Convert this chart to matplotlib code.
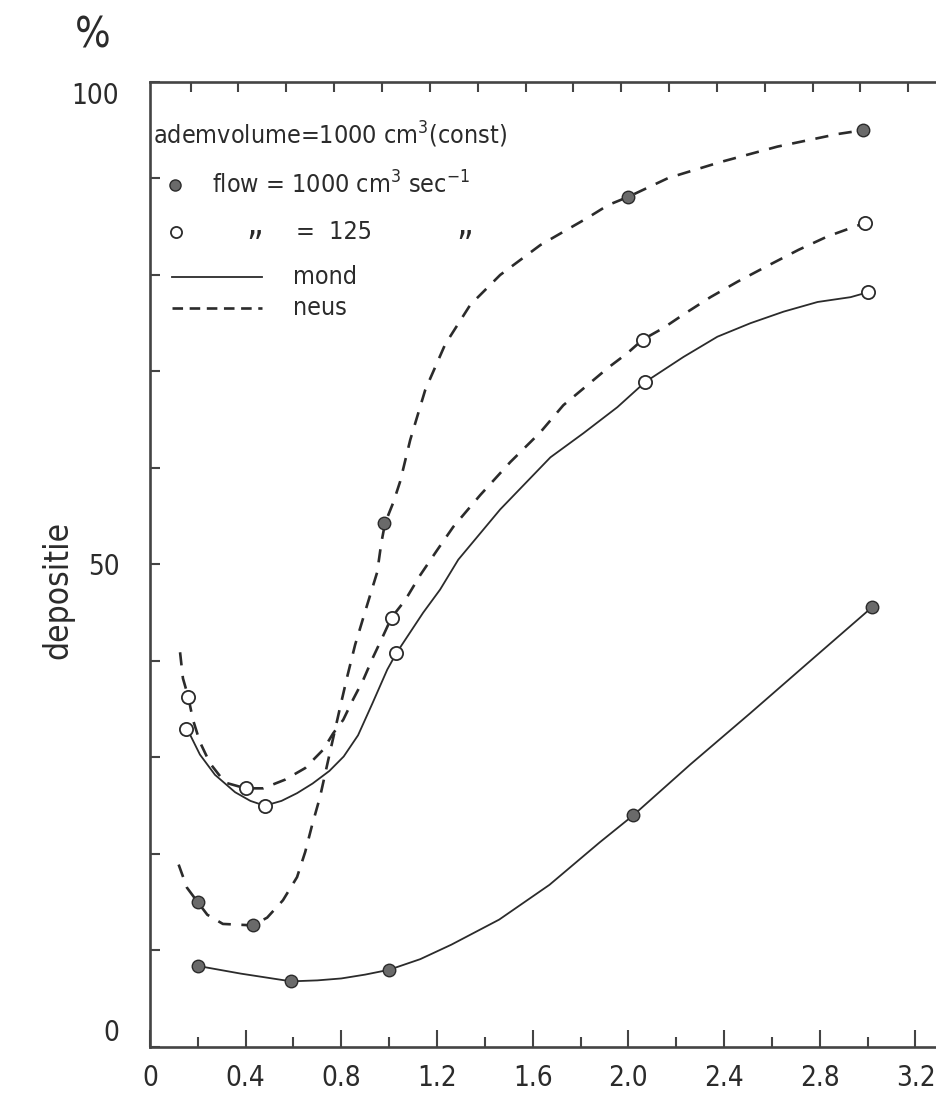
import numpy as np
import matplotlib.pyplot as plt

# measured points (x = particle size, y = deposition %)
flow1000_mond_x = [0.20, 0.59, 1.00, 2.02, 3.02]
flow1000_mond_y = [8.4, 6.8, 8.0, 24.0, 45.6]
flow1000_neus_x = [0.20, 0.43, 0.98, 2.00, 2.98]
flow1000_neus_y = [15.0, 12.6, 54.3, 88.1, 95.0]
flow125_mond_x = [0.15, 0.48, 1.03, 2.07, 3.00]
flow125_mond_y = [33.0, 25.0, 40.8, 68.9, 78.2]
flow125_neus_x = [0.16, 0.40, 1.01, 2.06, 2.99]
flow125_neus_y = [36.3, 26.8, 44.5, 73.3, 85.4]

# hand-drawn curves
curve_a_x = [0.20, 0.38, 0.59, 0.70, 0.80, 0.90, 1.00, 1.13, 1.26, 1.46, 1.67, 1.88,
             1.96, 2.02, 2.26, 2.51, 2.76, 3.02]
curve_a_y = [8.4, 7.6, 6.8, 6.9, 7.1, 7.5, 8.0, 9.1, 10.6, 13.2, 16.8, 21.2,
             22.8, 24.0, 29.3, 34.6, 40.0, 45.6]
curve_b_x = [0.12, 0.155, 0.20, 0.24, 0.305, 0.43, 0.49, 0.556, 0.615, 0.649, 0.678,
             0.711, 0.745, 0.795, 0.824, 0.858, 0.908, 0.95, 0.967, 0.983, 1.017,
             1.046, 1.088, 1.151, 1.234, 1.339, 1.464, 1.632, 1.828, 1.916, 2.00,
             2.167, 2.385, 2.623, 2.874, 2.98]
curve_b_y = [18.9, 16.5, 15.0, 13.7, 12.75, 12.6, 13.4, 15.2, 17.6, 20.2, 23.0,
             25.9, 29.7, 35.2, 38.3, 41.7, 45.8, 49.2, 52.2, 54.3, 56.4,
             58.6, 62.9, 68.1, 72.8, 76.9, 80.0, 83.1, 85.9, 87.25, 88.1,
             90.05, 91.7, 93.3, 94.6, 95.0]
curve_c_x = [0.155, 0.209, 0.272, 0.356, 0.42, 0.48, 0.55, 0.615, 0.68, 0.75, 0.81,
             0.87, 0.93, 0.992, 1.03, 1.142, 1.213, 1.289, 1.464, 1.674, 1.812, 1.954,
             2.07, 2.23, 2.372, 2.51, 2.649, 2.791, 2.929, 3.00]
curve_c_y = [33.0, 30.3, 28.2, 26.4, 25.5, 25.0, 25.5, 26.3, 27.3, 28.6, 30.1,
             32.3, 35.6, 39.1, 40.8, 45.0, 47.4, 50.5, 55.7, 61.1, 63.6, 66.3,
             68.9, 71.5, 73.6, 75.0, 76.2, 77.2, 77.7, 78.2]
curve_d_x = [0.126, 0.138, 0.16, 0.18, 0.209, 0.251, 0.314, 0.40, 0.473, 0.565,
             0.649, 0.724, 0.766, 0.808, 0.849, 0.891, 0.933, 0.971, 1.01, 1.067,
             1.13, 1.201, 1.268, 1.381, 1.506, 1.632, 1.728, 1.82, 1.916, 1.996,
             2.06, 2.146, 2.23, 2.343, 2.456, 2.586, 2.711, 2.833, 2.99]
curve_d_y = [40.9, 38.2, 36.3, 33.9, 31.6, 29.4, 27.4, 26.8, 26.8, 27.7,
             28.9, 30.8, 32.5, 33.9, 36.0, 38.0, 40.4, 42.4, 44.5, 46.3,
             48.9, 51.5, 53.9, 57.2, 60.6, 63.7, 66.5, 68.4, 70.4, 71.9,
             73.3, 74.5, 75.9, 77.7, 79.3, 81.0, 82.6, 84.0, 85.4]

x_major = [0, 0.4, 0.8, 1.2, 1.6, 2.0, 2.4, 2.8, 3.2]
x_labels = ['0', '0.4', '0.8', '1.2', '1.6', '2.0', '2.4', '2.8', '3.2']
y_major = [0, 50, 100]
y_labels = ['0', '50', '100']

INK = '#2b2b2b'
FILL = '#6a6a6a'
FRAME = '#444'

plt.rcParams['font.family'] = ['DejaVu Sans']
plt.rcParams['font.stretch'] = 'condensed'

fig = plt.figure(figsize=(9.37, 11.03), dpi=100)
ax = fig.add_axes([0.160, 0.0508, 0.84, 0.8749])

dash = (5, 4)
ax.plot(curve_a_x, curve_a_y, color=INK, lw=1.3, zorder=2)
ax.plot(curve_c_x, curve_c_y, color=INK, lw=1.3, zorder=2)
ax.plot(curve_b_x, curve_b_y, color=INK, lw=1.9, dashes=dash, zorder=2)
ax.plot(curve_d_x, curve_d_y, color=INK, lw=1.9, dashes=dash, zorder=2)

ax.plot(flow1000_mond_x, flow1000_mond_y, 'o', ms=9, mfc=FILL, mec=INK, mew=1.0, zorder=3)
ax.plot(flow1000_neus_x, flow1000_neus_y, 'o', ms=9, mfc=FILL, mec=INK, mew=1.0, zorder=3)
ax.plot(flow125_mond_x, flow125_mond_y, 'o', ms=9.5, mfc='white', mec=INK, mew=1.3, zorder=3)
ax.plot(flow125_neus_x, flow125_neus_y, 'o', ms=9.5, mfc='white', mec=INK, mew=1.3, zorder=3)

ax.set_xlim(0, 3.29)
ax.set_ylim(0, 100)

# frame like the old hand-drawn figure: no right spine, ticks pointing inward
for side in ['left', 'bottom', 'top']:
    ax.spines[side].set_linewidth(1.9)
    ax.spines[side].set_color(FRAME)
ax.spines['right'].set_visible(False)

ax.set_xticks(x_major)
ax.set_xticklabels(x_labels)
ax.set_xticks(np.arange(0.2, 3.3, 0.4), minor=True)
ax.set_yticks(y_major)
ax.set_yticklabels(y_labels)
ax.set_yticks(np.arange(10, 100, 10), minor=True)

ax.tick_params(axis='x', which='major', direction='in', length=12, width=1.5,
               color=FRAME, labelsize=20, pad=12, labelcolor=INK)
ax.tick_params(axis='x', which='minor', direction='in', length=7, width=1.5, color=FRAME)
ax.tick_params(axis='y', which='both', direction='in', length=7, width=1.5,
               color=FRAME, labelsize=20, pad=22, labelcolor=INK)
ylabels = ax.get_yticklabels()
ylabels[0].set_va('bottom')
ylabels[2].set_va('top')

top = ax.secondary_xaxis('top')
top.set_xticks(np.arange(0.17, 3.29, 0.2))
top.tick_params(direction='in', length=7, width=1.5, color=FRAME, labeltop=False)
top.spines['top'].set_visible(False)

fig.text(0.062, 0.465, 'depositie', rotation=90, fontsize=24, color=INK,
         ha='center', va='center')
fig.text(0.099, 0.968, '%', fontsize=30, color=INK, ha='center', va='center')

# legend block, laid out like the hand-lettered original
fs = 18
ax.text(0.004, 0.945, 'ademvolume=1000 cm$^3$(const)', transform=ax.transAxes,
        fontsize=fs, color=INK, va='center', ha='left')
ax.plot([0.032], [0.893], 'o', ms=8, mfc=FILL, mec=INK, transform=ax.transAxes)
ax.text(0.079, 0.893, 'flow = 1000 cm$^3$ sec$^{-1}$', transform=ax.transAxes,
        fontsize=fs, color=INK, va='center', ha='left')
ax.plot([0.033], [0.845], 'o', ms=8, mfc='white', mec=INK, mew=1.3, transform=ax.transAxes)
ax.text(0.133, 0.852, '„', transform=ax.transAxes, fontsize=26, color=INK,
        va='center', ha='center')
ax.text(0.186, 0.845, '=  125', transform=ax.transAxes, fontsize=fs, color=INK,
        va='center', ha='left')
ax.text(0.400, 0.852, '„', transform=ax.transAxes, fontsize=26, color=INK,
        va='center', ha='center')
ax.plot([0.028, 0.142], [0.798, 0.798], color=INK, lw=1.3, transform=ax.transAxes)
ax.text(0.182, 0.798, 'mond', transform=ax.transAxes, fontsize=fs, color=INK,
        va='center', ha='left')
ax.plot([0.028, 0.142], [0.766, 0.766], color=INK, lw=1.9, dashes=(4, 2.5),
        transform=ax.transAxes)
ax.text(0.182, 0.766, 'neus', transform=ax.transAxes, fontsize=fs, color=INK,
        va='center', ha='left')

fig.savefig('out.png', dpi=100)
